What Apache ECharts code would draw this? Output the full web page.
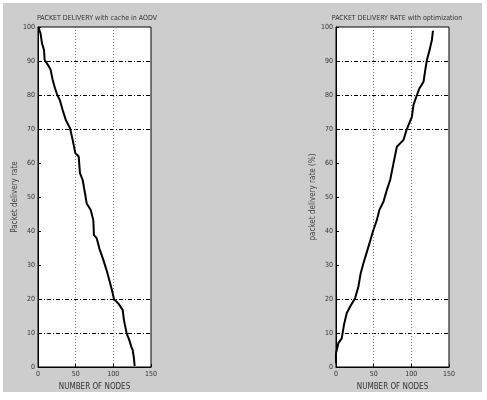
<!DOCTYPE html>
<html><head><meta charset="utf-8">
<script src="https://cdn.jsdelivr.net/npm/echarts@6/dist/echarts.min.js"></script>
<style>html,body{margin:0;padding:0;background:#fff;}#c{width:487px;height:400px;}</style>
</head><body><div id="c"></div>
<script>
const xTicks = [0, 50, 100, 150];
const yTicks = [0, 10, 20, 30, 40, 50, 60, 70, 80, 90, 100];
const leftTitle = "PACKET DELIVERY with cache in AODV";
const rightTitle = "PACKET DELIVERY RATE with optimization";
const xName = "NUMBER OF NODES";
const leftYName = "Packet delivery rate";
const rightYName = "packet delivery rate (%)";
const leftX = [0.5,3.5,5.3,8,8.8,13.3,16.8,19.5,22.6,25.6,29,32.7,37,42.5,46,49.5,54,55.7,59.3,62.4,64.6,70,73.4,74.3,77.9,81.4,86.7,91,94.6,98.2,100.9,106.6,112.4,114.1,117.7,121.2,123.8,125.7,127.4,128.3];
const leftY = [100,98,95.2,93.2,90.3,88.8,87.4,84.4,82,80,78.5,75.6,72.6,70.2,66.8,62.9,61.9,57,55,51.1,48.1,46.2,43.2,38.8,37.9,34.9,31.5,28.5,25.6,22.6,19.9,18.7,16.8,13.8,9.9,7.9,6,5,2.5,0.3];
const rightX = [0,0,3.1,7.6,10.6,14.2,18.6,25.3,29.7,32.8,36.4,42,45.8,49.6,54.2,57.6,63,67.5,71.9,77.2,80.8,89.6,93.6,100.7,102.9,107.4,110.9,116.2,118.5,120.7,124.2,127.3,128.7];
const rightY = [1,4,7,8.4,12.4,15.8,17.7,20.2,23.6,27.6,30.5,34.6,37.4,40.3,43.2,46.2,48.6,52.1,55,60.9,64.8,66.8,69.7,73.6,77.1,80,82,83.9,87.4,90.3,93.2,96.2,98.9];

const FONT = "'Liberation Sans Narrow','DejaVu Sans Condensed',sans-serif";
const hColors = yTicks.map(v => [10,20,70,80,90].includes(v) ? '#000' : 'rgba(0,0,0,0)');
const vColors = xTicks.map(v => (v === 50 || v === 100) ? '#777' : 'rgba(0,0,0,0)');

function xAxis(i) {
  return {
    type: 'value', gridIndex: i, min: 0, max: 150, interval: 50,
    name: xName, nameLocation: 'middle', nameGap: 13,
    nameTextStyle: {fontFamily: FONT, fontSize: 8, color: '#333'},
    axisLine: {show: true, lineStyle: {color: '#000', width: 1}},
    axisTick: {show: true, inside: true, length: 3, lineStyle: {color: '#000'}},
    axisLabel: {fontFamily: FONT, fontSize: 7, color: '#333', margin: 4},
    splitLine: {show: true, lineStyle: {color: vColors, type: [1, 2], width: 1}}
  };
}
function yAxis(i, name) {
  return {
    type: 'value', gridIndex: i, min: 0, max: 100, interval: 10,
    name: name, nameLocation: 'middle', nameGap: 12, nameRotate: 90,
    nameTextStyle: {fontFamily: FONT, fontSize: 8, color: '#444'},
    axisLine: {show: true, lineStyle: {color: '#000', width: 1}},
    axisTick: {show: true, inside: true, length: 3, lineStyle: {color: '#000'}},
    axisLabel: {fontFamily: FONT, fontSize: 7, color: '#333', margin: 3},
    splitLine: {show: true, lineStyle: {color: hColors, type: [4, 2, 1, 2], width: 1}}
  };
}
const chart = echarts.init(document.getElementById('c'), null, {renderer: 'canvas'});
chart.setOption({
  animation: false,
  backgroundColor: '#fff',
  graphic: [{type: 'rect', z: -10, shape: {x: 3, y: 3, width: 479, height: 389}, style: {fill: '#cdcdcd'}}],
  title: [
    {text: leftTitle, left: 92, top: 10, textAlign: 'center', textStyle: {fontFamily: FONT, fontSize: 7, fontWeight: 'normal', color: '#333'}},
    {text: rightTitle, left: 392, top: 10, textAlign: 'center', textStyle: {fontFamily: FONT, fontSize: 7, fontWeight: 'normal', color: '#333'}}
  ],
  grid: [
    {left: 38, right: 336, top: 27, bottom: 33, show: true, backgroundColor: '#fff', borderColor: '#000', borderWidth: 1},
    {left: 336, right: 38, top: 27, bottom: 33, show: true, backgroundColor: '#fff', borderColor: '#000', borderWidth: 1}
  ],
  xAxis: [xAxis(0), xAxis(1)],
  yAxis: [yAxis(0, leftYName), yAxis(1, rightYName)],
  series: [
    {type: 'line', xAxisIndex: 0, yAxisIndex: 0, showSymbol: false, data: leftX.map((x, i) => [x, leftY[i]]), lineStyle: {color: '#000', width: 2}},
    {type: 'line', xAxisIndex: 1, yAxisIndex: 1, showSymbol: false, data: rightX.map((x, i) => [x, rightY[i]]), lineStyle: {color: '#000', width: 2}}
  ]
});
</script></body></html>
